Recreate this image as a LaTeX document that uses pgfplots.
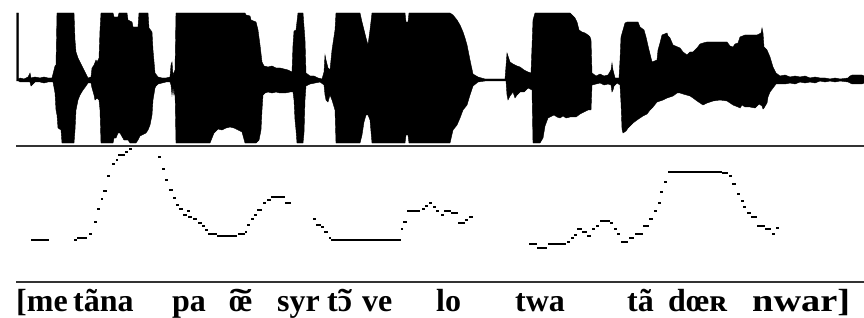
\documentclass[border=0pt]{standalone}
\usepackage{pgfplots}
\pgfplotsset{compat=1.18}
\usepackage{graphicx}
\usepackage{fontspec}
\setmainfont{Liberation Serif}
\newcommand{\nas}[2]{\ooalign{#1\cr\hidewidth\scalebox{#2}[1]{˜}\hidewidth\cr}}
\begin{document}
\begin{tikzpicture}
\begin{axis}[scale only axis, width=864pt, height=318pt,
  xmin=0, xmax=864, ymin=0, ymax=318, y dir=reverse,
  hide axis, clip=false, unbounded coords=jump]
% waveform envelope (upper edge left to right, then lower edge right to left)
\addplot[fill=black, draw=black, line width=0.4pt] coordinates {
(16.5,80)(16.5,13)(18.5,13)(18.5,79)(20,78)(24,79)(28,77)(30,73)(31,78)(35,77)(40,78)(44,77)(48,78)(52,78)(55,66)(56,65)(57,13)(74,13)(75,40)(76,52)(78,58)(80,62)(83,68)(86,74)(88,78)(91,77)(92,68)(94,65)(96,60)(97,62)(99,58)(100,30)(101,13)(113,13)(114,17)(118,17)(119,13)(127,13)(128,20)(132,22)(133,27)(138,27)(139,13)(148,13)(149,28)(152,32)(153,50)(155,73)(158,77)(162,78)(166,78)(170,77)(171,65)(172,62)(173,75)(175,70)(176,13)(245,13)(246,15)(250,16)(251,20)(256,22)(258,30)(260,45)(262,62)(264,66)(268,67)(272,66)(276,68)(280,68)(284,69)(288,70)(292,72)(293,45)(294,31)(296,30)(298,13)(303,13)(305,40)(306,73)(310,76)(314,76)(318,78)(322,79)(324,72)(325,55)(326,60)(328,68)(330,70)(332,50)(335,30)(336,13)(360,13)(362,22)(364,30)(366,38)(368,45)(370,30)(372,13)(405,13)(406,22)(408,22)(409,13)(450,13)(453,15)(457,20)(460,25)(463,32)(465,38)(467,45)(470,60)(473,74)(478,77)(485,79)(495,79)(505,79)(507,53)(508,56)(510,62)(513,64)(517,66)(520,67)(524,70)(528,72)(531,73)(533,20)(535,13)(570,13)(572,15)(575,18)(577,22)(579,30)(582,32)(585,33)(588,35)(590,37)(591,40)(592,73)(596,76)(600,74)(604,76)(608,75)(611,70)(612,63)(613,70)(615,78)(619,78)(620,60)(621,37)(623,30)(625,23)(627,22)(638,22)(640,27)(644,30)(646,37)(649,50)(652,62)(657,60)(658,50)(660,43)(662,35)(667,33)(668,36)(670,38)(673,45)(680,48)(683,52)(687,55)(690,52)(693,52)(697,48)(700,44)(703,43)(707,42)(727,42)(730,46)(733,47)(735,44)(738,43)(740,37)(745,35)(757,35)(761,33)(762,28)(763,33)(764,47)(767,50)(770,57)(773,67)(776,73)(780,76)(785,75)(790,77)(795,76)(800,77)(805,76)(810,78)(815,77)(820,78)(825,78)(830,79)(835,78)(840,79)(848,78)(850,76)(852,75)(862,75)(864,76)
(864,83)(862,84)(852,84)(850,83)(848,82)(840,81)(835,82)(830,81)(825,82)(820,81)(815,83)(810,82)(805,83)(800,82)(795,84)(790,83)(785,84)(780,84)(776,84)(773,88)(770,92)(768,97)(767,103)(764,108)(763,109)(762,106)(759,104)(755,108)(750,107)(745,107)(742,105)(740,108)(738,107)(733,105)(727,101)(720,100)(713,101)(707,103)(703,105)(697,101)(693,98)(690,96)(683,94)(680,93)(677,93)(673,96)(667,98)(663,100)(657,102)(653,107)(650,110)(647,114)(643,116)(640,118)(637,120)(633,123)(630,126)(628,128)(626,131)(623,133)(622,129)(621,103)(620,85)(617,83)(614,86)(613,90)(612,92)(611,85)(608,84)(604,85)(600,83)(596,84)(592,85)(591,110)(588,110)(584,112)(580,114)(576,117)(570,117)(566,118)(563,116)(560,118)(557,117)(554,115)(550,117)(548,118)(545,126)(543,138)(540,143)(535,143)(533,143)(532,90)(528,88)(524,92)(520,92)(517,95)(515,98)(513,92)(510,96)(508,100)(507,95)(506,81)(495,81)(485,81)(478,82)(473,86)(470,95)(467,105)(463,110)(460,118)(457,125)(453,130)(450,143)(409,143)(408,135)(406,135)(405,143)(372,143)(370,120)(368,115)(366,115)(364,122)(362,135)(360,143)(336,143)(335,110)(332,100)(330,95)(328,102)(326,100)(325,95)(324,85)(320,82)(315,83)(310,84)(306,86)(305,100)(304,133)(303,143)(297,143)(296,130)(295,120)(294,100)(293,92)(290,92)(285,93)(280,93)(276,92)(272,93)(268,92)(265,93)(263,95)(262,110)(261,130)(259,140)(256,143)(245,143)(242,132)(238,130)(234,128)(230,127)(226,128)(222,130)(218,129)(214,133)(212,138)(210,143)(176,143)(175,90)(174,95)(173,87)(172,95)(171,85)(170,82)(166,82)(162,83)(158,84)(156,86)(155,88)(153,100)(152,115)(150,125)(148,130)(146,133)(140,136)(138,140)(136,143)(130,143)(128,140)(124,140)(120,133)(118,133)(116,138)(114,138)(113,143)(101,143)(100,110)(99,100)(97,98)(95,100)(94,95)(92,88)(91,83)(88,83)(86,86)(83,90)(80,95)(78,100)(76,110)(75,130)(74,143)(62,143)(61,130)(58,128)(57,115)(56,110)(55,93)(53,82)(48,82)(44,83)(40,82)(35,82)(31,86)(30,82)(28,82)(24,82)(20,82)(18.5,81)(16.5,81)
} -- cycle;
% separator lines
\addplot[black!80, line width=2.2pt] coordinates {(16,146)(864,146)};
\addplot[black!80, line width=2.2pt] coordinates {(16,282)(864,282)};
% pitch track
\addplot[black, line width=2.4pt] coordinates {
(31,240)(49,240)(49,nan)
(74,240)(77,240)(77,nan)
(77,238)(87,238)(87,nan)
(89,234)(92,234)(92,nan)
(94,222)(96.5,222)(96.5,nan)
(97,209)(100,209)(100,nan)
(101,199)(103,199)(103,nan)
(103,191)(107,191)(107,nan)
(107,176)(110,176)(110,nan)
(112,164)(115,164)(115,nan)
(116,160)(118,160)(118,nan)
(118,155)(125,155)(125,nan)
(125,152)(128,152)(128,nan)
(129,149)(132,149)(132,nan)
(158,157)(161,157)(161,nan)
(162,169)(164.5,169)(164.5,nan)
(165,180)(168,180)(168,nan)
(169,190)(173,190)(173,nan)
(173,198)(175.5,198)(175.5,nan)
(176,205)(179,205)(179,nan)
(179,209)(183,209)(183,nan)
(187,211)(189.5,211)(189.5,nan)
(183,215)(187,215)(187,nan)
(188,217)(192,217)(192,nan)
(193,219)(197,219)(197,nan)
(198,223)(202,223)(202,nan)
(202,226)(204.5,226)(204.5,nan)
(205,230)(208,230)(208,nan)
(208,234)(217,234)(217,nan)
(217,236)(237,236)(237,nan)
(238,234)(245,234)(245,nan)
(245,232)(247,232)(247,nan)
(247,225)(250,225)(250,nan)
(251,219)(254,219)(254,nan)
(254,215)(257,215)(257,nan)
(257,210)(262,210)(262,nan)
(263,203)(266,203)(266,nan)
(267,200)(271,200)(271,nan)
(271,197)(285,197)(285,nan)
(285,203)(291,203)(291,nan)
(313,219)(315.5,219)(315.5,nan)
(316,225)(321,225)(321,nan)
(321,227)(323.5,227)(323.5,nan)
(324,232)(328,232)(328,nan)
(329,238)(331,238)(331,nan)
(331,240)(401,240)(401,nan)
(401,229)(403,229)(403,nan)
(403,222)(407,222)(407,nan)
(407,211)(420,211)(420,nan)
(422,209)(425,209)(425,nan)
(425,206)(428,206)(428,nan)
(429,203)(432,203)(432,nan)
(433,207)(436,207)(436,nan)
(436,211)(438.5,211)(438.5,nan)
(441,215)(444,215)(444,nan)
(444,211)(451,211)(451,nan)
(451,213)(458,213)(458,nan)
(458,223)(465,223)(465,nan)
(465,220)(468,220)(468,nan)
(469,217)(473,217)(473,nan)
(529,244)(537,244)(537,nan)
(537,248)(547,248)(547,nan)
(548,244)(566,244)(566,nan)
(567,242)(570,242)(570,nan)
(571,238)(574,238)(574,nan)
(574,235)(577,235)(577,nan)
(577,229)(582,229)(582,nan)
(582,232)(587,232)(587,nan)
(587,236)(591,236)(591,nan)
(592,229)(595,229)(595,nan)
(596,226)(599,226)(599,nan)
(600,221)(610,221)(610,nan)
(610,223)(613,223)(613,nan)
(614,229)(616.5,229)(616.5,nan)
(617,234)(620,234)(620,nan)
(621,242)(628,242)(628,nan)
(629,238)(634,238)(634,nan)
(635,234)(643,234)(643,nan)
(643,226)(649,226)(649,nan)
(649,219)(653,219)(653,nan)
(654,211)(657,211)(657,nan)
(658,203)(660.5,203)(660.5,nan)
(660,192)(663,192)(663,nan)
(664,182)(667,182)(667,nan)
(668,172)(722,172)(722,nan)
(722,173)(728,173)(728,nan)
(729,176)(731.5,176)(731.5,nan)
(732,184)(736,184)(736,nan)
(737,194)(740,194)(740,nan)
(741,201)(743.5,201)(743.5,nan)
(743,207)(746,207)(746,nan)
(747,213)(751,213)(751,nan)
(751,217)(757,217)(757,nan)
(757,226)(765,226)(765,nan)
(765,229)(771,229)(771,nan)
(772,234)(775,234)(775,nan)
(776,228)(779,228)
};
% transcription
\begin{scope}[every node/.style={anchor=base west, inner sep=0pt, font=\fontsize{32}{32}\selectfont\bfseries}]
\node at (axis cs:16,311) {[me};
\node at (axis cs:73,311) {tãna};
\node at (axis cs:172,311) {pa};
\node at (axis cs:229,311) {\nas{œ}{2}};
\node at (axis cs:277,311) {syr};
\node at (axis cs:327,311) {t\nas{ɔ}{1.3}};
\node at (axis cs:362,311) {ve};
\node at (axis cs:436,311) {lo};
\node at (axis cs:515,311) {twa};
\node at (axis cs:627,311) {tã};
\node at (axis cs:668,311) {dœʀ};
\node at (axis cs:752,311) {\resizebox{98pt}{\height}{nwar]}};
\end{scope}
\end{axis}
\pgfresetboundingbox
\useasboundingbox (current axis.south west) rectangle (current axis.north east);
\end{tikzpicture}
\end{document}
